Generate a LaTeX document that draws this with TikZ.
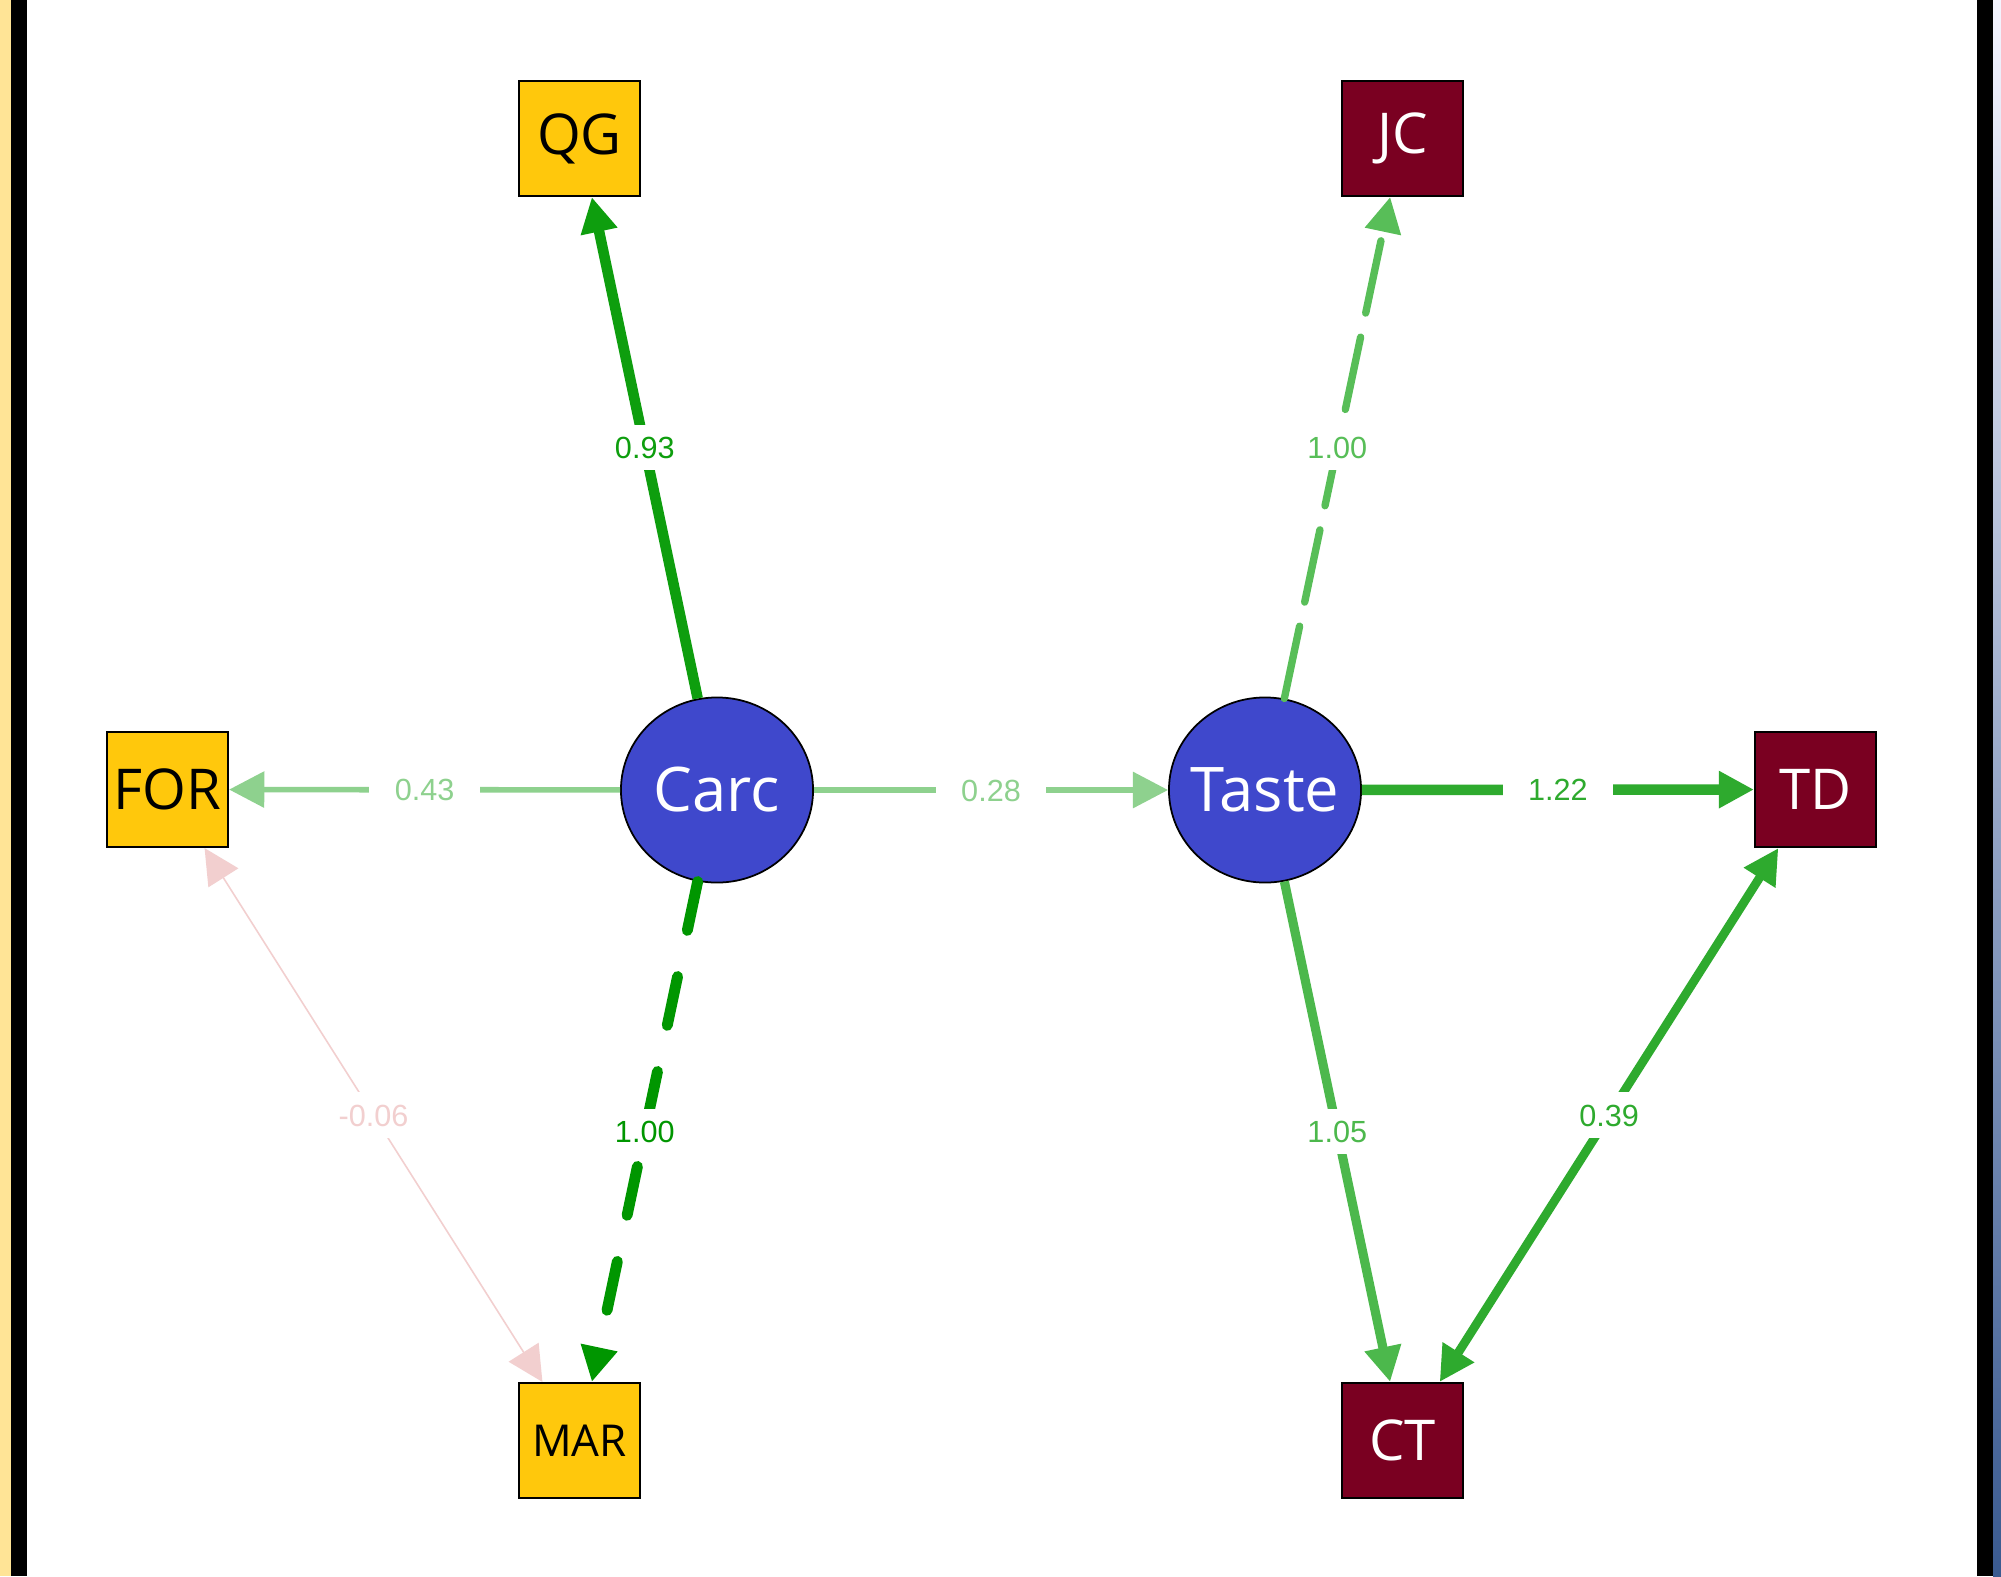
\documentclass[tikz,border=0pt]{standalone}
\usepackage{fontspec}
\setmainfont{Open Sans}
\newfontfamily\lblfont{Liberation Sans}
\usetikzlibrary{arrows.meta,shapes.geometric}

\definecolor{stripyellow}{HTML}{FFE496}
\definecolor{gold}{HTML}{FFC80C}
\definecolor{wine}{HTML}{7A0021}
\definecolor{latentblue}{HTML}{3F48CC}
\definecolor{gDark}{HTML}{0E9E0E}
\definecolor{gDash}{HTML}{009600}
\definecolor{gStrong}{HTML}{2EAA2E}
\definecolor{gMid}{HTML}{4CB84C}
\definecolor{gJC}{HTML}{58BE58}
\definecolor{gLight}{HTML}{8ED18E}
\definecolor{negPink}{HTML}{F2CFCF}

\tikzset{
  manifest/.style={rectangle, draw=black, line width=0.6pt, fill=#1,
    minimum width=1.21cm, minimum height=1.15cm, inner sep=0pt,
    font=\fontsize{16}{19}\selectfont},
  latent/.style={ellipse, draw=black, line width=0.5pt, fill=latentblue,
    minimum width=1.92cm, minimum height=1.85cm, inner sep=0pt, text=white,
    font=\fontsize{17.5}{21}\selectfont},
  tip/.tip={Triangle[length=10pt,width=10pt]},
  edge/.style={-tip},
  bothway/.style={tip-tip},
  lbl/.style={fill=white, inner xsep=7.3pt, inner ysep=3.3pt,
    text height=6.3pt, text depth=0pt,
    font=\lblfont\fontsize{8.7}{10}\selectfont},
  dashedge/.style={line cap=round, dash pattern=on 14.2pt off 13.4pt},
  longdash/.style={line cap=round, dash pattern=on 21pt off 7pt},
}
% keeps a label from widening the shape around it
\newcommand{\fixedtext}[1]{\makebox[0pt]{#1}}

\begin{document}
\begin{tikzpicture}[x=0.01cm, y=-0.01cm]
  \useasboundingbox (0,0) rectangle (2001,1576);
  % frame
  \fill[white] (0,0) rectangle (2001,1576);
  \fill[stripyellow] (0,0) rectangle (11,1576);
  \fill[black] (11,0) rectangle (27,1576);
  \fill[black] (1977,0) rectangle (1993,1576);
  \shade[top color=white!96!blue, bottom color={rgb,255:red,58;green,90;blue,144}]
    (1993,0) rectangle (2001,1576);

  % indicators
  \node[manifest=gold, text=black] (QG)  at (579.5,138.5)  {QG};
  \node[manifest=gold, text=black] (FOR) at (167.5,789.5)  {\fixedtext{FOR}};
  \node[manifest=gold, text=black, font=\fontsize{12.5}{15}\selectfont] (MAR) at (579.5,1440.5) {MAR};
  \node[manifest=wine, text=white] (JC)  at (1402.5,138.5) {JC};
  \node[manifest=wine, text=white] (TD)  at (1815.5,789.5) {TD};
  \node[manifest=wine, text=white] (CT)  at (1402.5,1440.5) {CT};

  % latent factors
  \node[latent] (Carc)  at (717,790)  {\fixedtext{Carc}};
  \node[latent] (Taste) at (1265,790) {\fixedtext{Taste}};

  % loadings and paths
  \draw[edge, draw=gDark, line width=3pt] (Carc) -- node[lbl, text=gDark] {0.93} (QG);
  \draw[edge, dashedge, draw=gDash, line width=3.1pt] (Carc) -- node[lbl, text=gDash] {1.00} (MAR);
  \draw[edge, draw=gLight, line width=1.6pt] (Carc) -- node[lbl, text=gLight] {0.43} (FOR);
  \draw[edge, draw=gLight, line width=1.6pt] (Carc) -- node[lbl, text=gLight] {0.28} (Taste);
  \draw[edge, longdash, draw=gJC, line width=2.1pt] (Taste) -- node[lbl, text=gJC] {1.00} (JC);
  \draw[edge, draw=gStrong, line width=3pt] (Taste) -- node[lbl, text=gStrong] {1.22} (TD);
  \draw[edge, draw=gMid, line width=2.6pt] (Taste) -- node[lbl, text=gMid] {1.05} (CT);

  % residual covariances
  \draw[bothway, draw=gStrong, line width=2.5pt] (TD) -- node[lbl, text=gStrong] {0.39} (CT);
  \draw[bothway, draw=negPink, line width=0.45pt] (FOR) -- node[lbl, text=negPink] {-0.06} (MAR);
\end{tikzpicture}
\end{document}
